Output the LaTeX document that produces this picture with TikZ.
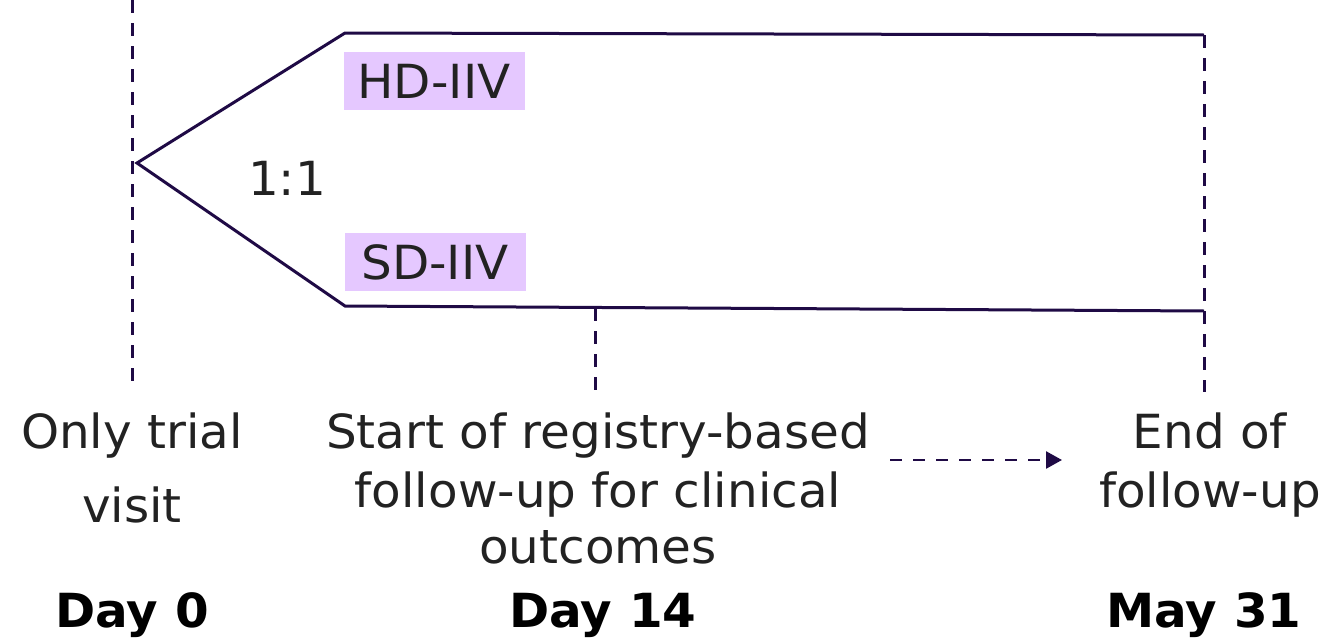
\documentclass[tikz,border=0pt]{standalone}
\usepackage{fontspec}
\setmainfont{DejaVu Sans}[FakeStretch=1.03]
\usetikzlibrary{arrows.meta}
\definecolor{linec}{HTML}{1F0A45}
\definecolor{boxc}{HTML}{E5C8FF}
\definecolor{txt}{HTML}{222222}
\tikzset{
  arm/.style={draw=linec, line width=3pt, line join=miter},
  guide/.style={draw=linec, line width=3pt, dash pattern=on 13pt off 10pt},
  lbl/.style={text=txt, font=\fontsize{47}{58}\selectfont, align=center, inner sep=0pt},
  grp/.style={fill=boxc, text=txt, font=\fontsize{47}{55}\selectfont, minimum width=181pt, minimum height=58pt, inner sep=0pt},
  daylbl/.style={text=black, font=\fontsize{47}{55}\selectfont\bfseries, inner sep=0pt}
}
\begin{document}
\begin{tikzpicture}[x=1pt,y=-1pt]
\useasboundingbox (0,0) rectangle (1339,640);
% coordinates
\coordinate (g0t) at (132,0);
\coordinate (g0b) at (132,390);
\coordinate (apex) at (137,163);
\coordinate (ut) at (345,33);
\coordinate (ur) at (1204,35);
\coordinate (lt) at (345,306);
\coordinate (lr) at (1204,311);
\coordinate (g2b) at (1204,392);
\coordinate (m1) at (595,308);
\coordinate (m2) at (595,392);
\coordinate (a1) at (890,460);
\coordinate (a2) at (1062,460);
% guides
\draw[guide] (g0t) -- (g0b);
\draw[guide] (ur) -- (g2b);
\draw[guide] (m1) -- (m2);
% arms
\draw[arm] (ur) -- (ut) -- (apex) -- (lt) -- (lr);
% labels
\node[grp] (hd) at (434,81) {HD-IIV};
\node[grp] (sd) at (435,262) {SD-IIV};
\node[lbl, anchor=base] (ratio) at (287,195) {1:1};
\node[lbl, anchor=base] (only) at (132,522) {Only trial\\[16pt]visit};
\node[lbl, anchor=base] (start) at (598,563) {Start of registry-based\\[1pt]follow-up for clinical\\[-2pt]outcomes};
\node[lbl, anchor=base] (endf) at (1210,507) {End of\\[1pt]follow-up};
\node[daylbl, anchor=base] (d0) at (132,627) {Day 0};
\node[daylbl, anchor=base] (d14) at (603,627) {Day 14};
\node[daylbl, anchor=base] (d31) at (1204,627) {May 31};
% arrow
\draw[draw=linec, line width=2.6pt, dash pattern=on 12pt off 11pt, -{Triangle[length=16pt,width=17pt]}] (a1) -- (a2);
\end{tikzpicture}
\end{document}
